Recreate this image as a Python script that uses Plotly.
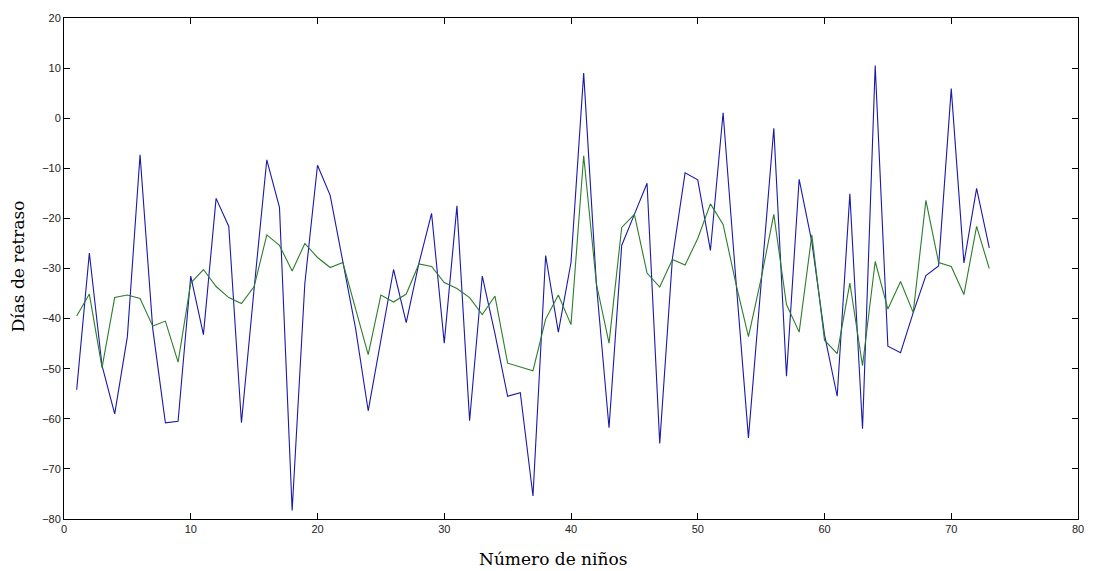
import plotly.graph_objects as go

ninos = list(range(1, 74))
retraso_real = [
    -54.2, -26.9, -49.4, -59.0, -43.6, -7.3, -42.0, -60.8, -60.5, -31.5,
    -43.2, -16.0, -21.6, -60.8, -34.0, -8.3, -17.8, -78.3, -33.0, -9.4,
    -15.4, -28.8, -41.9, -58.4, -44.0, -30.2, -40.8, -29.0, -19.0, -44.9,
    -17.5, -60.4, -31.5, -43.0, -55.5, -54.8, -75.4, -27.4, -42.7, -28.8,
    9.0, -33.0, -61.8, -25.4, -19.2, -13.0, -64.9, -28.0, -10.9, -12.3,
    -26.4, 1.1, -32.0, -63.8, -33.0, -2.0, -51.5, -12.2, -24.7, -43.2,
    -55.5, -15.1, -62.0, 10.5, -45.5, -46.8, -38.8, -31.4, -29.5, 5.9,
    -28.9, -14.0, -25.9,
]
retraso_modelo = [
    -39.5, -35.1, -49.8, -35.8, -35.3, -36.0, -41.5, -40.5, -48.7, -32.9,
    -30.2, -33.6, -35.8, -37.0, -33.6, -23.3, -25.4, -30.5, -25.0, -27.8,
    -29.8, -28.8, -38.0, -47.2, -35.3, -36.7, -35.1, -29.1, -29.6, -32.8,
    -34.0, -35.8, -39.2, -35.5, -48.9, -49.6, -50.4, -40.1, -35.3, -41.2,
    -7.5, -33.0, -44.9, -21.8, -19.2, -30.9, -33.7, -28.2, -29.3, -24.0,
    -17.1, -21.2, -32.9, -43.6, -32.0, -19.2, -37.2, -42.7, -23.3, -44.3,
    -47.0, -32.9, -49.4, -28.6, -38.1, -32.6, -38.8, -16.4, -28.8, -29.6,
    -35.2, -21.6, -30.0,
]

x_ticks = [0, 10, 20, 30, 40, 50, 60, 70, 80]
y_ticks = [20, 10, 0, -10, -20, -30, -40, -50, -60, -70, -80]

fig = go.Figure()
fig.add_trace(go.Scatter(x=ninos, y=retraso_real, mode="lines",
                         line=dict(color="rgb(25,25,170)", width=1.1),
                         showlegend=False))
fig.add_trace(go.Scatter(x=ninos, y=retraso_modelo, mode="lines",
                         line=dict(color="rgb(45,125,45)", width=1.1),
                         showlegend=False))

axis_common = dict(
    showgrid=False, zeroline=False, showline=True, linecolor="black",
    linewidth=1, mirror="ticks", ticks="inside", ticklen=6,
    tickcolor="black", tickfont=dict(family="Liberation Sans", size=11, color="#222"),
)
fig.update_xaxes(range=[0, 80], tickvals=x_ticks, **axis_common)
fig.update_yaxes(range=[-80, 20], tickvals=y_ticks, **axis_common)

title_font = dict(family="DejaVu Serif", size=17, color="black")
fig.add_annotation(text="Número de niños", xref="paper", yref="paper",
                   x=0.4827, y=-0.08, xanchor="center", yanchor="middle",
                   showarrow=False, font=title_font)
fig.add_annotation(text="Días de retraso", xref="paper", yref="paper",
                   x=-0.045, y=0.505, xanchor="center", yanchor="middle",
                   textangle=-90, showarrow=False, font=title_font)

fig.update_layout(
    width=1098, height=571,
    margin=dict(l=64, r=20, t=16, b=52),
    paper_bgcolor="white", plot_bgcolor="white",
)
fig.write_html("out.html")
